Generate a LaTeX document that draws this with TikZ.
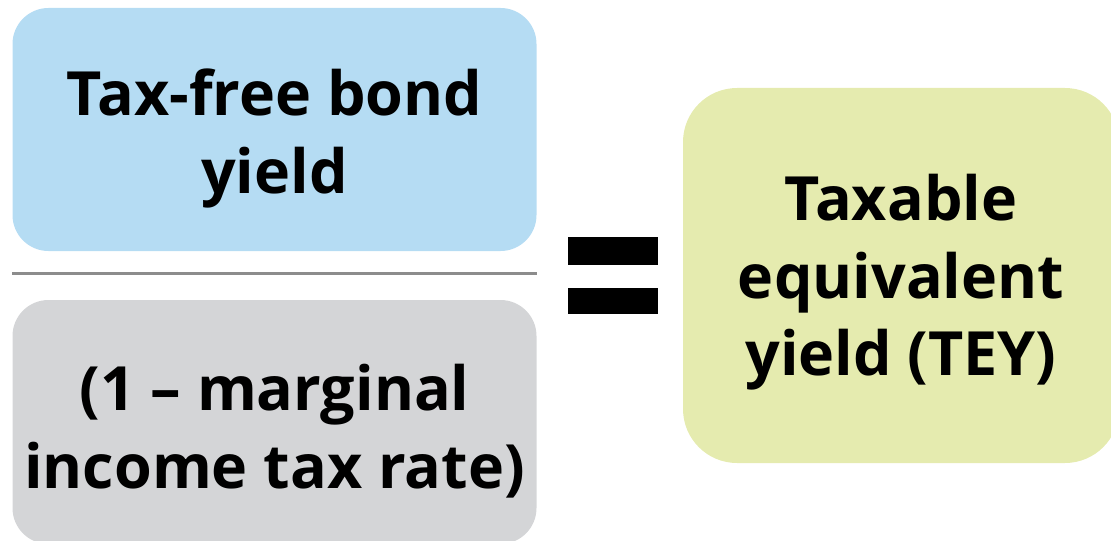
\documentclass[tikz,border=0pt]{standalone}
\usepackage{fontspec}
\setmainfont{Open Sans}
\definecolor{freeblue}{HTML}{B5DCF3}
\definecolor{rategray}{HTML}{D4D5D7}
\definecolor{teygreen}{HTML}{E5EBAF}
\definecolor{barline}{HTML}{8C8C8C}
\tikzset{
  termbox/.style={rounded corners=18pt, inner sep=0pt, align=center,
    font=\fontsize{30.5}{38.8}\selectfont\bfseries},
}
\begin{document}
\begin{tikzpicture}[x=0.5pt,y=-0.5pt]
\useasboundingbox (0,0) rectangle (1111,540);

% numerator and denominator
\node[termbox, fill=freeblue, minimum width=262pt, minimum height=121.5pt]
  (free) at (274.5,129.5) {};
\node[termbox] (freetext) at ([yshift=-4.5pt]free.center) {Tax-free bond\\yield};
\node[termbox, fill=rategray, minimum width=262pt, minimum height=122pt]
  (rate) at (274.5,422) {};
\node[termbox] (ratetext) at ([yshift=-4.5pt]rate.center) {(1 – marginal\\income tax rate)};

% fraction bar
\coordinate (barl) at (12,273);
\coordinate (barr) at (537,273);
\draw[barline, line width=1.5pt] (barl) -- (barr);

% equals sign
\fill (568,237) rectangle (658,265);
\fill (568,288) rectangle (658,314);

% result
\node[termbox, fill=teygreen, rounded corners=27pt, minimum width=218pt, minimum height=187.5pt]
  (tey) at (901,275.5) {};
\node[termbox] (teytext) at ([yshift=-3.5pt]tey.center) {Taxable\\equivalent\\yield (TEY)};
\end{tikzpicture}
\end{document}
